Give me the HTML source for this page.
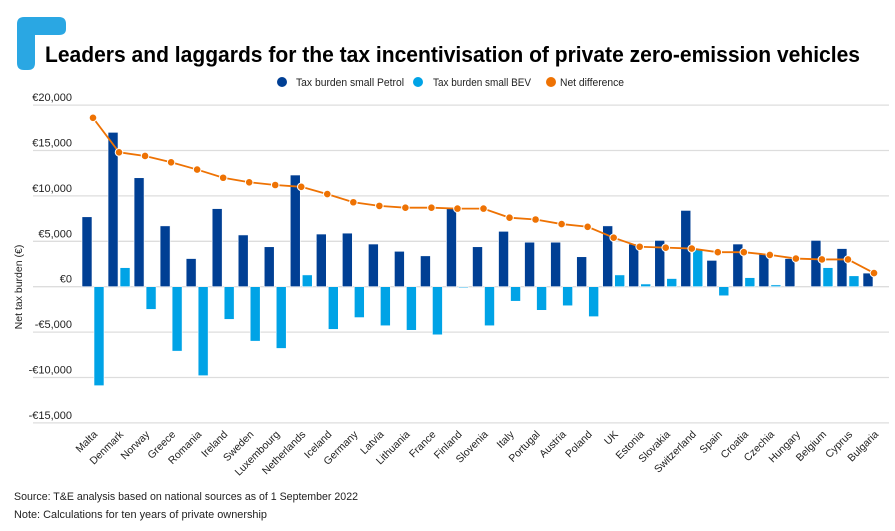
<!DOCTYPE html>
<html><head><meta charset="utf-8"><style>
html,body{margin:0;padding:0;background:#fff;}
svg{display:block;font-family:"Liberation Sans",sans-serif;}
</style></head><body>
<svg id="c" width="895" height="531" viewBox="0 0 895 531" xmlns="http://www.w3.org/2000/svg">
<path d="M17 24 Q17 17 24 17 L59 17 Q66 17 66 24 L66 29 Q66 35 59 35 L35 35 L35 63 Q35 70 28 70 L24 70 Q17 70 17 63 Z" fill="#2aa7e3"/>
<text x="45" y="62" font-size="22.5" font-weight="bold" fill="#000" textLength="815" lengthAdjust="spacingAndGlyphs">Leaders and laggards for the tax incentivisation of private zero-emission vehicles</text>
<circle cx="282" cy="82" r="5" fill="#003f94"/>
<text x="296" y="86" font-size="11" fill="#222" textLength="108" lengthAdjust="spacingAndGlyphs">Tax burden small Petrol</text>
<circle cx="418" cy="82" r="5" fill="#00a3e6"/>
<text x="433" y="86" font-size="11" fill="#222" textLength="98" lengthAdjust="spacingAndGlyphs">Tax burden small BEV</text>
<circle cx="551" cy="82" r="5" fill="#ee7203"/>
<text x="560" y="86" font-size="11" fill="#222" textLength="64" lengthAdjust="spacingAndGlyphs">Net difference</text>
<text transform="translate(22,287) rotate(-90)" text-anchor="middle" font-size="10.5" fill="#222">Net tax burden (€)</text>
<g id="g"></g>
<text x="14" y="500" font-size="11" fill="#222" textLength="344" lengthAdjust="spacingAndGlyphs">Source: T&amp;E analysis based on national sources as of 1 September 2022</text>
<text x="14" y="518" font-size="11" fill="#222" textLength="253" lengthAdjust="spacingAndGlyphs">Note: Calculations for ten years of private ownership</text>
</svg>
<script>
var d=[["Malta",7.7,-10.9,18.6],["Denmark",17.0,2.1,14.8],["Norway",12.0,-2.5,14.4],["Greece",6.7,-7.1,13.7],["Romania",3.1,-9.8,12.9],["Ireland",8.6,-3.6,12.0],["Sweden",5.7,-6.0,11.5],["Luxembourg",4.4,-6.8,11.2],["Netherlands",12.3,1.3,11.0],["Iceland",5.8,-4.7,10.2],["Germany",5.9,-3.4,9.3],["Latvia",4.7,-4.3,8.9],["Lithuania",3.9,-4.8,8.7],["France",3.4,-5.3,8.7],["Finland",8.6,-0.1,8.6],["Slovenia",4.4,-4.3,8.6],["Italy",6.1,-1.6,7.6],["Portugal",4.9,-2.6,7.4],["Austria",4.9,-2.1,6.9],["Poland",3.3,-3.3,6.6],["UK",6.7,1.3,5.4],["Estonia",4.7,0.3,4.4],["Slovakia",5.1,0.9,4.3],["Switzerland",8.4,4.1,4.2],["Spain",2.9,-1.0,3.8],["Croatia",4.7,1.0,3.8],["Czechia",3.6,0.2,3.5],["Hungary",3.1,0,3.1],["Belgium",5.1,2.1,3.0],["Cyprus",4.2,1.2,3.0],["Bulgaria",1.5,0,1.5]];
var n=d.length,x0=93,x1=874,st=(x1-x0)/(n-1),z=286.7,k=9.08;
function Y(v){return z-v*k;}
var s="";
[20,15,10,5,0,-5,-10,-15].forEach(function(v){var y=Y(v);
s+='<line x1="33" x2="889" y1="'+y+'" y2="'+y+'" stroke="#ddd" stroke-width="1.3"/>';
var t=(v<0?"-€":"€")+(Math.abs(v)===0?"0":Math.abs(v)+",000");
s+='<text x="72" y="'+(y-4)+'" text-anchor="end" font-size="11" fill="#222">'+t+'</text>';});
var pts=[];
d.forEach(function(r,i){var c=x0+i*st;
function bar(x,v,col){if(!v)return;var a=Y(Math.max(v,0)),b=Y(Math.min(v,0));s+='<rect x="'+x+'" y="'+a+'" width="10" height="'+Math.max(b-a,1)+'" fill="'+col+'" stroke="#fff" stroke-width="0.6"/>';}
bar(c-11,r[1],"#003f94");bar(c+1,r[2],"#00a3e6");
pts.push([c,Y(r[3])]);
s+='<text transform="translate('+(c+5)+',435) rotate(-45)" text-anchor="end" font-size="10.5" fill="#222">'+r[0]+'</text>';});
s+='<polyline fill="none" stroke="#ee7203" stroke-width="1.8" points="'+pts.map(function(p){return p.join(",")}).join(" ")+'"/>';
pts.forEach(function(p){s+='<circle cx="'+p[0]+'" cy="'+p[1]+'" r="3.8" fill="#ee7203" stroke="#fff" stroke-width="1"/>';});
document.getElementById("g").innerHTML=s;
</script>
</body></html>
